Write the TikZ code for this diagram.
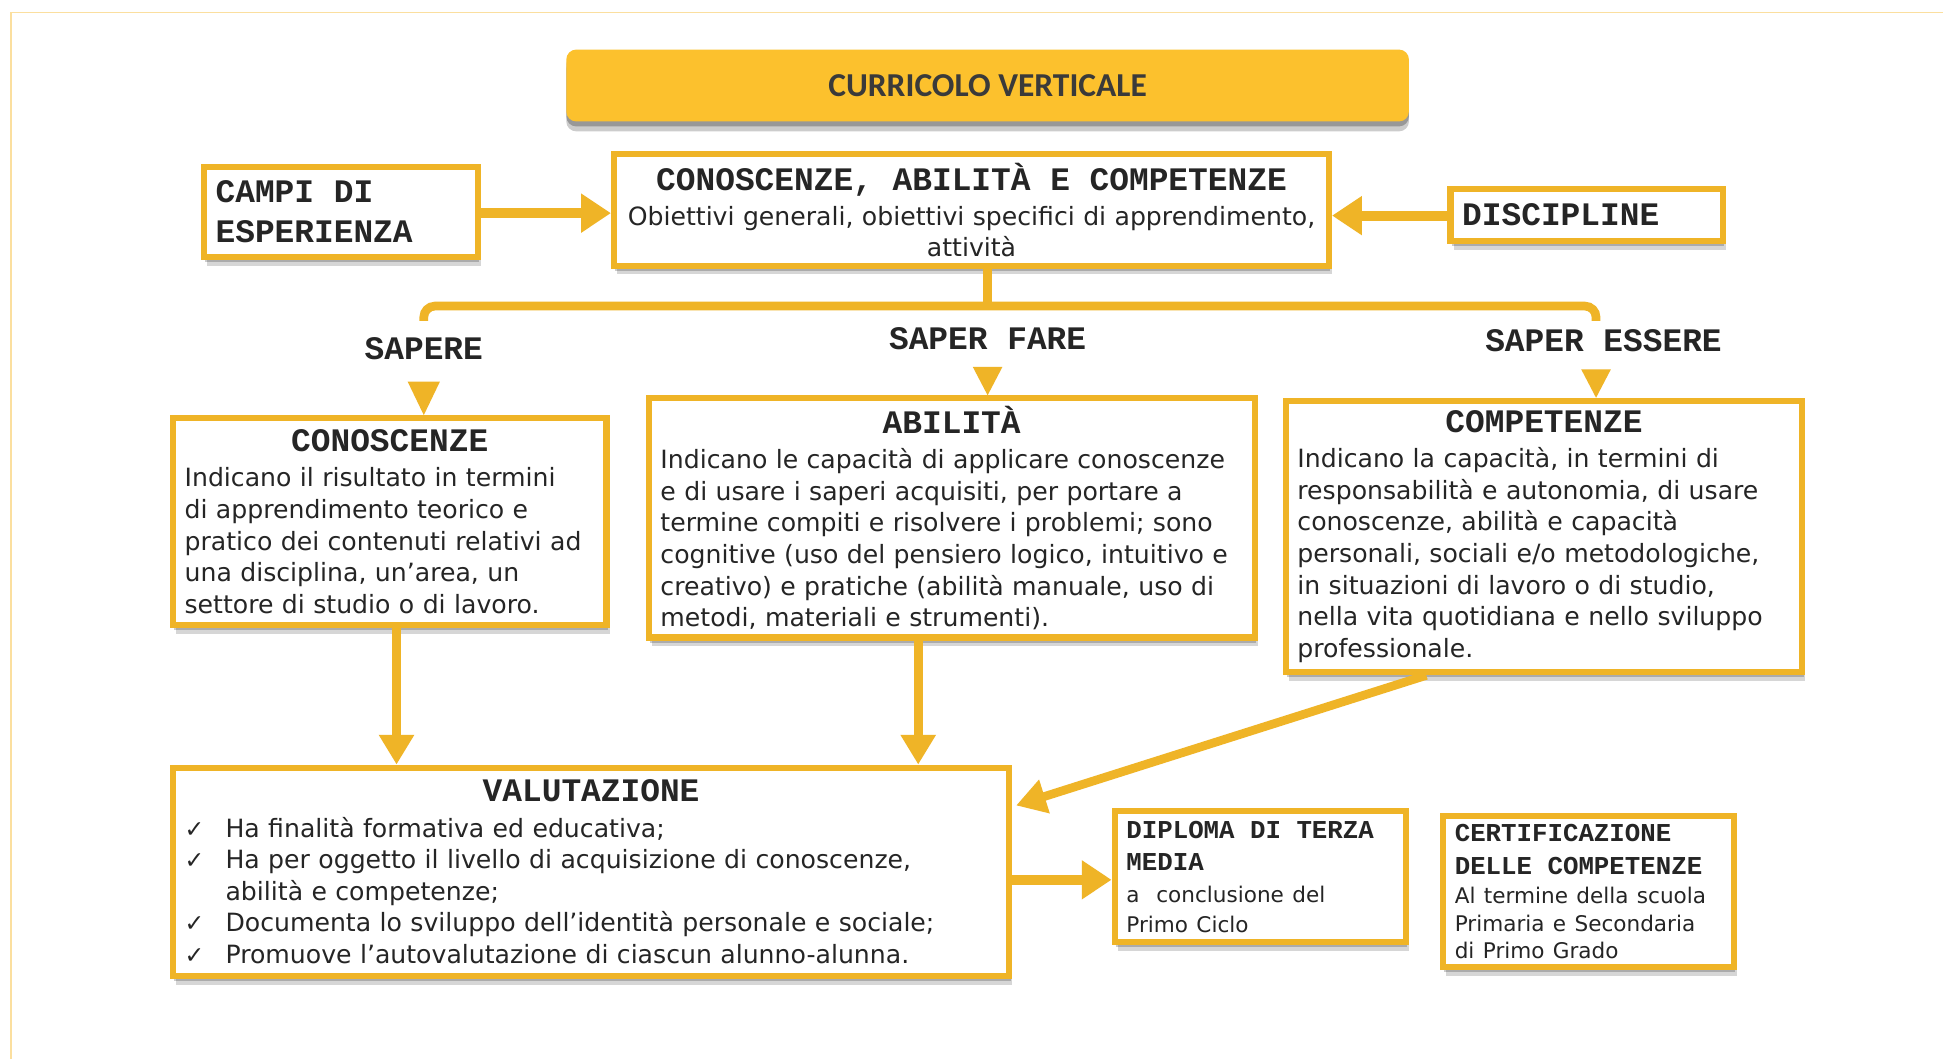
\documentclass[tikz,border=0pt]{standalone}
\usepackage{fontspec}
\setmainfont{DejaVu Sans}
\newfontfamily\monofont{Liberation Mono}
\newfontfamily\titlefont{Carlito}
\newfontfamily\symfont{DejaVu Sans}
\usetikzlibrary{arrows.meta,shadows,calc}
\definecolor{acc}{HTML}{EFB427}
\definecolor{titlefill}{HTML}{FCC12D}
\definecolor{framec}{HTML}{FBDF9F}
\definecolor{txt}{HTML}{252525}
\definecolor{ttxt}{HTML}{3A3A3A}
\newcommand\bodyfont{\fontsize{20.3}{25.5}\selectfont}
\newcommand\monosel[2]{\monofont\bfseries\fontsize{#1}{#2}\selectfont\spaceskip=0.6em\relax}
\newcommand\hd[1]{\makebox[\hsize]{\monosel{26.5}{29}#1}\par\vskip 3pt}
\newcommand\mh{\monosel{26.5}{32}}
\newcommand\itm[1]{\makebox[33pt][l]{\symfont\fontsize{19}{20}\selectfont ✓}#1}
\begin{document}
\begin{tikzpicture}[x=1pt,y=-1pt,
  shd/.style={drop shadow={shadow xshift=1pt,shadow yshift=-4pt,opacity=0.2,fill=black},
              drop shadow={shadow xshift=2.5pt,shadow yshift=-7pt,opacity=0.16,fill=black}},
  box/.style={draw=acc,line width=5pt,fill=white,rectangle,inner xsep=9.5pt,inner ysep=2pt,
    align=left,text=txt,font=\bodyfont,shd},
  titlebox/.style={fill=titlefill,rounded corners=8pt,minimum width=680pt,minimum height=58pt,
    text=ttxt,font=\titlefont\bfseries\fontsize{27}{30}\selectfont,
    drop shadow={shadow xshift=0pt,shadow yshift=-4pt,opacity=0.25,fill=black},
    drop shadow={shadow xshift=0pt,shadow yshift=-8pt,opacity=0.2,fill=black}},
  lbl/.style={text=txt,font=\monosel{26.5}{30},inner sep=0pt},
  fat/.style={draw=acc,line width=8pt,-{Triangle[width=30pt,length=24pt]}},
  fatv/.style={draw=acc,line width=7pt,-{Triangle[width=27pt,length=24pt]}},
  branchline/.style={draw=acc,line width=7pt}
]
\useasboundingbox (0,0) rectangle (1568,854.6);
\fill[white] (0,0) rectangle (1568,854.6);
\draw[framec,line width=1.2pt] (9,854.6) -- (9,10) -- (1568,10);

% title
\node[titlebox] (title) at (797,69) {CURRICOLO VERTICALE};

% top row
\node[box,minimum width=221pt,minimum height=73pt,text width=202pt] (campi) at (275,171)
  {\mh CAMPI DI\\ESPERIENZA\par};
\node[box,align=center,minimum width=577pt,minimum height=90pt,text width=558pt] (main) at (784,169.5)
  {\hd{CONOSCENZE, ABILITÀ E COMPETENZE}Obiettivi generali, obiettivi specifici di apprendimento,\\attività};
\node[box,minimum width=220pt,minimum height=42pt,text width=201pt] (disc) at (1280.5,173.5)
  {\mh DISCIPLINE\par};

\draw[fat] (campi.east |- 0,172) -- (main.west |- 0,172);
\draw[fat] (disc.west |- 0,174) -- (main.east |- 0,174);

% branch
\coordinate (brtop) at (797,247);
\draw[branchline] (main.south -| brtop) -- (brtop);
\draw[branchline,rounded corners=9pt] (342,259) -- (342,247) -- (1288,247) -- (1288,259);

% labels
\node[lbl] (sapere) at (342,281) {SAPERE};
\node[lbl] (saperfare) at (797,273) {SAPER FARE};
\node[lbl] (saperessere) at (1294,275) {SAPER ESSERE};

% middle row
\node[box,minimum width=350pt,minimum height=167pt,text width=331pt] (conosc) at (314.5,421)
  {\hd{CONOSCENZE}Indicano il risultato in termini\\di apprendimento teorico e\\pratico dei contenuti relativi ad\\una disciplina, un’area, un\\settore di studio o di lavoro.};
\node[box,minimum width=489pt,minimum height=193pt,text width=470pt] (abil) at (768,418)
  {\hd{ABILITÀ}Indicano le capacità di applicare conoscenze\\e di usare i saperi acquisiti, per portare a\\termine compiti e risolvere i problemi; sono\\cognitive (uso del pensiero logico, intuitivo e\\creativo) e pratiche (abilità manuale, uso di\\metodi, materiali e strumenti).};
\node[box,minimum width=417pt,minimum height=219pt,text width=398pt] (comp) at (1246,433)
  {\hd{COMPETENZE}Indicano la capacità, in termini di\\responsabilità e autonomia, di usare\\conoscenze, abilità e capacità\\personali, sociali e/o metodologiche,\\in situazioni di lavoro o di studio,\\nella vita quotidiana e nello sviluppo\\professionale.};

% triangles under labels
\fill[acc] (conosc.north -| sapere) -- ++(-13,-27) -- ++(26,0) -- cycle;
\fill[acc] (abil.north -| saperfare) -- ++(-12,-23) -- ++(24,0) -- cycle;
\fill[acc] (comp.north -| 1288,0) -- ++(-12,-23) -- ++(24,0) -- cycle;

% bottom row
\node[box,minimum width=675pt,minimum height=168pt,text width=656pt] (valut) at (477,703.5)
  {\hd{VALUTAZIONE}\itm{Ha finalità formativa ed educativa;}\\
   \itm{Ha per oggetto il livello di acquisizione di conoscenze,}\\
   \hspace*{33pt}abilità e competenze;\\
   \itm{Documenta lo sviluppo dell’identità personale e sociale;}\\
   \itm{Promuove l’autovalutazione di ciascun alunno-alunna.}};
\node[box,minimum width=235pt,minimum height=106pt,text width=216pt] (dipl) at (1017,707.5)
  {{\monosel{20.8}{26}DIPLOMA DI TERZA\\MEDIA\par}\vskip 2pt
   {\fontsize{17.4}{24}\selectfont a\ \ conclusione del\\Primo Ciclo\par}};
\node[box,minimum width=235pt,minimum height=122pt,text width=216pt] (cert) at (1282,719.5)
  {{\monosel{20.8}{26}CERTIFICAZIONE\\DELLE COMPETENZE\par}\vskip 2pt
   {\fontsize{17.4}{22}\selectfont Al termine della scuola\\Primaria e Secondaria\\di Primo Grado\par}};

% arrows to valutazione
\draw[fatv] (conosc.south -| 320,0) -- (valut.north -| 320,0);
\draw[fatv] (abil.south -| 741,0) -- (valut.north -| 741,0);
\coordinate (vin) at ($(valut.north east)+(3,33)$);
\draw[fatv] ($(comp.south west)!0.275!(comp.south east)$) -- (vin);
\draw[fat] (valut.east |- 0,710) -- (dipl.west |- 0,710);
\end{tikzpicture}
\end{document}
